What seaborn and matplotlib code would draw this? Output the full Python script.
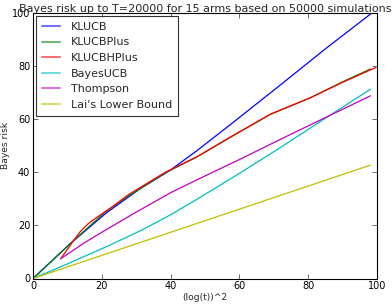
import matplotlib
matplotlib.use("Agg")
import matplotlib.pyplot as plt
import seaborn as sns
import pandas as pd

title = "Bayes risk up to T=20000 for 15 arms based on 50000 simulations"
series_names = ["KLUCB", "KLUCBPlus", "KLUCBHPlus", "BayesUCB", "Thompson", "Lai's Lower Bound"]

klucb_x = [0, 10.8, 21.4, 31.1, 39.8, 47.7, 57.8, 72.5, 84.8, 98.1]
klucb_y = [0, 13.1, 24.8, 33.8, 40.7, 48.2, 58.4, 73.5, 86.3, 99.6]

klucbplus_x = [0, 10.8, 16.0, 21.2, 28.0, 38.6, 47.7, 57.8, 69.0, 80.5, 90.2, 98.1]
klucbplus_y = [0, 13.1, 19.2, 25.3, 31.3, 39.9, 45.8, 53.5, 61.8, 68.0, 74.2, 78.9]

klucbhplus_x = [8.1, 11.2, 13.7, 16.1, 19.5, 22.4, 28.0, 38.6, 47.7, 57.8, 69.0, 80.5, 90.2, 99.7]
klucbhplus_y = [7.5, 13.2, 17.6, 20.7, 23.9, 26.4, 31.8, 40.1, 45.9, 53.6, 61.9, 68.0, 74.0, 79.5]

bayesucb_x = [0, 10.0, 22.4, 32.0, 40.0, 48.5, 60.0, 70.8, 80.5, 98.1]
bayesucb_y = [0, 5.5, 12.6, 18.5, 24.0, 30.5, 39.6, 48.4, 56.6, 71.3]

thompson_x = [8.0, 15.0, 21.4, 30.0, 40.0, 48.5, 60.0, 70.0, 80.5, 98.1]
thompson_y = [7.4, 13.5, 18.5, 25.0, 32.3, 37.7, 44.8, 51.2, 57.8, 68.8]

lai_x = [0, 98.1]
lai_y = [0, 42.7]

colors = ["#0000ff", "#008000", "#ff0000", "#00bfbf", "#bf00bf", "#bfbf00"]

sns.set_style("ticks")
plt.rcParams['font.family'] = ['DejaVu Sans']

fig = plt.figure(figsize=(3.92, 3.05), dpi=100)
ax = fig.add_axes([33/392, 1 - 278.5/305, 344/392, 265.5/305])

data = [(klucb_x, klucb_y), (klucbplus_x, klucbplus_y), (klucbhplus_x, klucbhplus_y),
        (bayesucb_x, bayesucb_y), (thompson_x, thompson_y), (lai_x, lai_y)]
for (xs, ys), name, c in zip(data, series_names, colors):
    df = pd.DataFrame({"x": xs, "y": ys})
    sns.lineplot(data=df, x="x", y="y", ax=ax, color=c, label=name,
                 linewidth=0.9, estimator=None, sort=False)

ax.set_xlim(0, 100)
ax.set_ylim(0, 100)
ax.set_xticks([0, 20, 40, 60, 80, 100])
ax.set_yticks([0, 20, 40, 60, 80, 100])
ax.tick_params(direction="in", top=True, right=True, labelsize=7, length=3.5,
               width=0.6, colors="#555555", labelcolor="black", pad=2)
for s in ax.spines.values():
    s.set_color("black")
    s.set_linewidth(0.8)
ax.set_xlabel("(log(t))^2", fontsize=6.6, labelpad=1)
ax.set_ylabel("Bayes risk", fontsize=6.6, labelpad=1)
ax.set_title(title, fontsize=8, pad=1)

leg = ax.legend(loc="upper left", fontsize=8, frameon=True, fancybox=False,
                borderaxespad=0.25, handlelength=1.6, handletextpad=1.0,
                labelspacing=0.5, borderpad=0.55)
leg.get_frame().set_edgecolor("black")
leg.get_frame().set_linewidth(0.8)
for h in leg.get_lines():
    h.set_alpha(0.55)
    h.set_linewidth(1.5)

fig.savefig("out.png", dpi=100)
